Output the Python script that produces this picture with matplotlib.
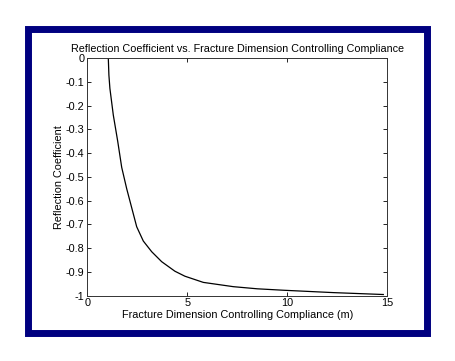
import matplotlib.pyplot as plt
from matplotlib.patches import Rectangle

# values
compliance = [1.05, 1.08, 1.13, 1.3, 1.52, 1.72, 1.97, 2.22, 2.47, 2.8,
              3.22, 3.72, 4.38, 4.88, 5.8, 7.3, 8.5, 9.8, 12.3, 14.8]
reflection = [0.0, -0.072, -0.128, -0.24, -0.35, -0.46, -0.55, -0.63,
              -0.71, -0.77, -0.815, -0.857, -0.897, -0.918, -0.944, -0.962,
              -0.971, -0.977, -0.987, -0.995]
xticks = [0, 5, 10, 15]
yticks = [0, -0.1, -0.2, -0.3, -0.4, -0.5, -0.6, -0.7, -0.8, -0.9, -1]
ytick_labels = ["0", "-0.1", "-0.2", "-0.3", "-0.4", "-0.5", "-0.6",
                "-0.7", "-0.8", "-0.9", "-1"]

plt.rcParams["font.family"] = ["Liberation Sans", "DejaVu Sans"]

fig = plt.figure(figsize=(4.56, 3.61), dpi=100)
W, H = 456, 361

# navy frame around the plot
fig.patches.append(Rectangle((28.5 / W, 1 - 332.5 / H), 399 / W, 304 / H,
                             transform=fig.transFigure, fill=False,
                             edgecolor="#000080", linewidth=5))

ax = fig.add_axes([87.3 / W, 1 - 295.7 / H, 300 / W, 237.7 / H])
ax.plot(compliance, reflection, color="black", linewidth=0.9)
ax.set_xlim(0, 15)
ax.set_ylim(-1, 0)
ax.set_xticks(xticks)
ax.set_yticks(yticks)
ax.set_yticklabels(ytick_labels)
ax.tick_params(direction="in", length=3, width=0.6, top=True, right=True,
               labelsize=7.8, pad=2)
for s in ax.spines.values():
    s.set_linewidth(0.7)
    s.set_color("#333333")

ax.set_title("Reflection Coefficient vs. Fracture Dimension Controlling Compliance",
             fontsize=7.75, pad=4)
ax.set_xlabel("Fracture Dimension Controlling Compliance (m)", fontsize=7.8,
              labelpad=1)
ax.set_ylabel("Reflection Coefficient", fontsize=7.8, labelpad=1)

fig.savefig("out.png", dpi=100)
